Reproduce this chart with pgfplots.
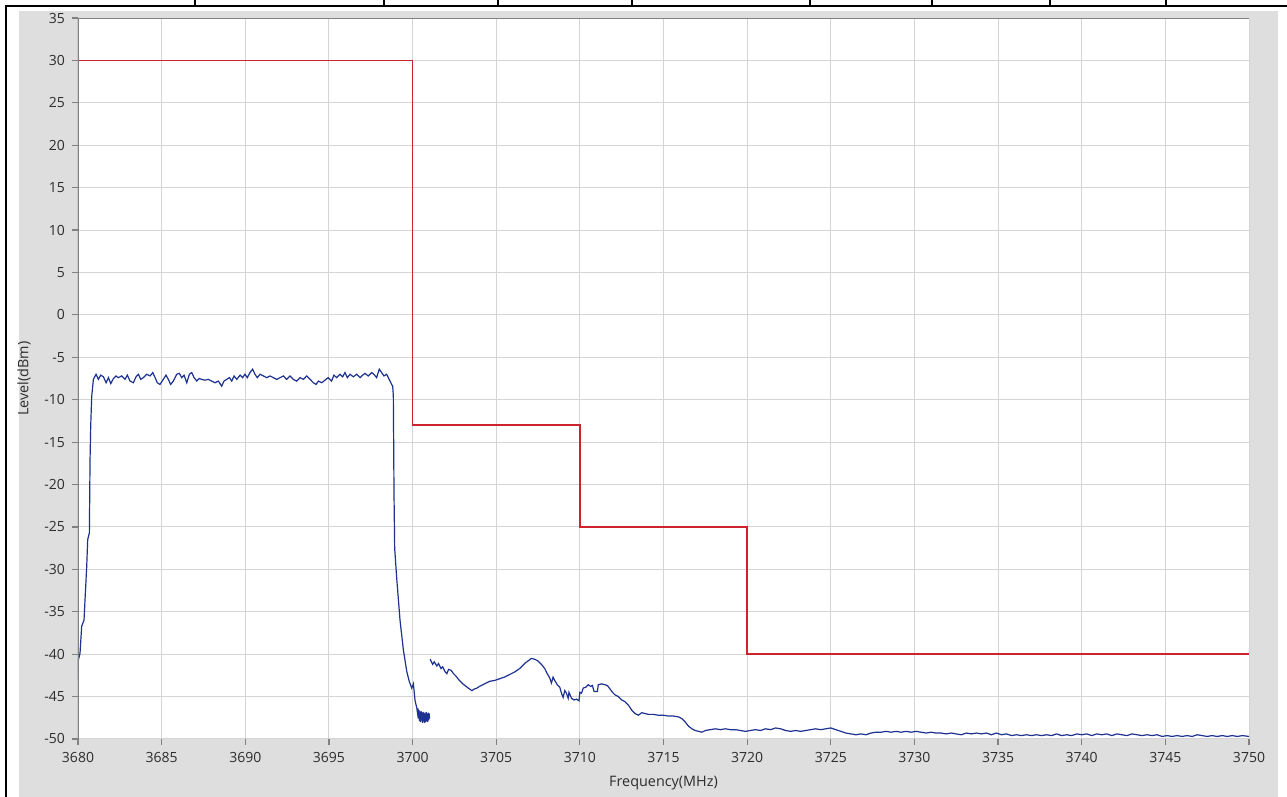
\documentclass[border=0pt]{standalone}
\usepackage{fontspec}
\setmainfont{Open Sans}
\usepackage{pgfplots}
\pgfplotsset{compat=1.18}

\definecolor{panel}{RGB}{222,222,222}
\definecolor{gridc}{RGB}{212,212,212}
\definecolor{axc}{RGB}{128,128,128}
\definecolor{limred}{RGB}{205,35,45}
\definecolor{trace}{RGB}{30,50,145}
\definecolor{txt}{RGB}{45,45,45}

\begin{document}
\begin{tikzpicture}
% page frame: 1px = 0.5pt
\useasboundingbox (0,0) rectangle (643.5pt,398.5pt);
\fill[panel] (9.5pt,0pt) rectangle (639pt,393pt);
\draw[black, line width=0.8pt] (3pt,0pt) -- (3pt,395.5pt) -- (643.5pt,395.5pt);
\foreach \sx in {97.5,192,249,316,405,466,525,583}
  \draw[black, line width=0.6pt] (\sx pt,395.5pt) -- (\sx pt,398.5pt);

\begin{axis}[
    at={(39pt,29pt)}, anchor=south west,
    scale only axis,
    width=585.5pt, height=360.5pt,
    xmin=3680, xmax=3750,
    ymin=-50, ymax=35,
    xtick={3680,3685,...,3750},
    ytick={-50,-45,...,35},
    xtick pos=bottom, ytick pos=left,
    tick align=outside,
    major tick length=3pt,
    tick style={axc, line width=0.6pt},
    axis line style={draw=none},
    axis background/.style={fill=white},
    grid=major,
    major grid style={gridc, line width=0.5pt},
    /pgf/number format/.cd, 1000 sep={}, assume math mode=true,
    /pgfplots/.cd,
    ticklabel style={font=\fontsize{7}{8}\selectfont, text=txt},
    label style={font=\fontsize{7.2}{8.5}\selectfont, text=txt},
    xlabel={Frequency(MHz)},
    ylabel={Level(dBm)},
    clip=true,
]
% limit mask
\addplot[limred, line width=0.75pt] coordinates {
  (3680,30) (3700,30) (3700,-13) (3710,-13) (3710,-25) (3720,-25) (3720,-40) (3750,-40)
};
% in-band part
\addplot[trace, line width=0.6pt] coordinates {
  (3680.00,-43.0) (3680.02,-40.7) (3680.12,-39.9) (3680.22,-36.7) (3680.36,-36.0)
  (3680.42,-33.6) (3680.52,-29.7) (3680.58,-26.5) (3680.68,-25.7) (3680.72,-17.1)
  (3680.76,-13.1) (3680.82,-9.6) (3680.92,-7.6) (3681.08,-7.0) (3681.22,-7.6)
  (3681.36,-7.1) (3681.52,-7.3) (3681.68,-8.0) (3681.82,-7.4) (3681.96,-8.1)
  (3682.12,-7.5) (3682.27,-7.2) (3682.41,-7.4) (3682.61,-7.2) (3682.81,-7.6)
  (3682.95,-7.1) (3683.11,-7.8) (3683.31,-8.0) (3683.47,-7.3) (3683.61,-7.0)
  (3683.75,-7.6) (3683.91,-7.4) (3684.11,-7.0) (3684.31,-7.2) (3684.47,-6.8)
  (3684.61,-7.4) (3684.74,-8.0) (3684.90,-8.2) (3685.10,-7.6) (3685.26,-7.1)
  (3685.40,-7.6) (3685.54,-8.2) (3685.70,-7.8) (3685.90,-7.0) (3686.06,-6.9)
  (3686.20,-7.4) (3686.34,-7.1) (3686.50,-8.0) (3686.66,-7.0) (3686.80,-6.8)
  (3686.94,-7.4) (3687.10,-7.8) (3687.25,-7.5) (3687.39,-7.6) (3687.59,-7.7)
  (3687.79,-7.6) (3687.99,-7.8) (3688.19,-8.0) (3688.39,-7.8) (3688.59,-8.4)
  (3688.73,-7.8) (3688.89,-7.6) (3689.05,-7.4) (3689.19,-7.8) (3689.33,-7.2)
  (3689.49,-7.6) (3689.69,-7.1) (3689.84,-7.4) (3689.98,-7.0) (3690.12,-7.4)
  (3690.28,-6.8) (3690.44,-6.4) (3690.58,-7.0) (3690.72,-7.4) (3690.88,-7.0)
  (3691.08,-7.2) (3691.28,-7.4) (3691.48,-7.2) (3691.68,-7.4) (3691.88,-7.6)
  (3692.08,-7.4) (3692.28,-7.2) (3692.47,-7.6) (3692.67,-7.2) (3692.87,-7.6)
  (3693.07,-7.8) (3693.27,-7.4) (3693.47,-7.6) (3693.67,-7.2) (3693.87,-7.6)
  (3694.07,-8.0) (3694.23,-8.2) (3694.37,-7.8) (3694.57,-8.0) (3694.76,-7.7)
  (3694.96,-7.4) (3695.16,-7.8) (3695.30,-7.1) (3695.46,-7.4) (3695.66,-7.0)
  (3695.82,-7.3) (3695.96,-6.8) (3696.10,-7.4) (3696.26,-7.0) (3696.46,-7.3)
  (3696.66,-7.0) (3696.86,-7.4) (3697.02,-7.1) (3697.16,-6.9) (3697.35,-7.2)
  (3697.55,-6.8) (3697.69,-7.0) (3697.85,-7.4) (3698.01,-6.4) (3698.15,-6.8)
  (3698.29,-7.2) (3698.45,-7.0) (3698.65,-7.8) (3698.75,-8.2) (3698.81,-8.4)
  (3698.85,-9.5) (3698.87,-15.0) (3698.89,-21.0) (3698.93,-27.5) (3699.05,-31.0)
  (3699.25,-36.0) (3699.45,-39.5) (3699.65,-42.0) (3699.80,-43.2) (3699.95,-44.0)
  (3700.05,-43.5) (3700.15,-45.5) (3700.25,-46.3) (3700.30,-47.0) (3700.33,-46.4)
  (3700.36,-47.6) (3700.39,-46.6) (3700.42,-47.9) (3700.45,-46.8) (3700.48,-48.0)
  (3700.51,-46.7) (3700.54,-47.8) (3700.57,-46.9) (3700.60,-48.1) (3700.63,-46.8)
  (3700.66,-47.9) (3700.69,-46.9) (3700.72,-48.1) (3700.75,-47.0) (3700.78,-48.0)
  (3700.81,-46.8) (3700.84,-47.9) (3700.87,-47.0) (3700.90,-48.0) (3700.93,-46.9)
  (3700.96,-47.8) (3700.99,-47.0) (3701.02,-47.6)
};
% adjacent part
\addplot[trace, line width=0.6pt] coordinates {
  (3701.05,-40.6) (3701.2,-41.2) (3701.3,-40.9) (3701.45,-41.4) (3701.55,-41.1)
  (3701.7,-41.7) (3701.8,-41.5) (3701.95,-42.1) (3702.05,-42.3) (3702.15,-41.8)
  (3702.3,-41.9) (3702.45,-42.3) (3702.6,-42.6) (3702.8,-43.1) (3703.0,-43.5)
  (3703.2,-43.8) (3703.4,-44.1) (3703.55,-44.3) (3703.7,-44.1) (3703.85,-44.0)
  (3704.0,-43.8) (3704.3,-43.5) (3704.6,-43.2) (3704.9,-43.1) (3705.2,-42.9)
  (3705.5,-42.7) (3705.8,-42.4) (3706.1,-42.1) (3706.4,-41.7) (3706.7,-41.1)
  (3706.9,-40.8) (3707.1,-40.5) (3707.3,-40.6) (3707.5,-40.8) (3707.7,-41.2)
  (3707.9,-41.7) (3708.05,-42.3) (3708.2,-42.8) (3708.3,-43.4) (3708.4,-42.7)
  (3708.5,-43.1) (3708.65,-43.6) (3708.8,-43.9) (3708.9,-44.6) (3709.0,-45.1)
  (3709.1,-44.3) (3709.2,-44.6) (3709.3,-45.2) (3709.35,-44.5) (3709.5,-45.2)
  (3709.65,-45.4) (3709.8,-45.3) (3709.95,-45.5) (3710.0,-44.5) (3710.1,-44.6)
  (3710.2,-44.0) (3710.35,-43.9) (3710.5,-43.6) (3710.65,-43.8) (3710.75,-43.7)
  (3710.85,-44.4) (3711.05,-44.4) (3711.1,-43.6) (3711.3,-43.5) (3711.5,-43.6)
  (3711.65,-43.7) (3711.8,-44.1) (3711.95,-44.5) (3712.1,-44.8) (3712.3,-45.0)
  (3712.5,-45.4) (3712.7,-45.6) (3712.9,-46.0) (3713.1,-46.6) (3713.3,-47.0)
  (3713.5,-47.2) (3713.7,-46.9) (3713.9,-47.0) (3714.1,-47.1) (3714.4,-47.1)
  (3714.7,-47.2) (3715.0,-47.2) (3715.3,-47.3) (3715.6,-47.3) (3715.9,-47.4)
  (3716.1,-47.6) (3716.3,-48.0) (3716.5,-48.5) (3716.7,-48.8) (3716.9,-49.0)
  (3717.1,-49.1) (3717.3,-49.2) (3717.5,-49.0) (3717.8,-48.9) (3718.1,-48.8)
  (3718.4,-48.9) (3718.7,-48.8) (3719.0,-48.9) (3719.3,-48.9) (3719.6,-49.0)
  (3719.9,-49.1) (3720.2,-49.0) (3720.5,-48.9) (3720.8,-49.0) (3721.1,-48.8)
  (3721.4,-48.9) (3721.7,-48.7) (3722.0,-48.8) (3722.3,-49.0) (3722.6,-49.1)
  (3722.9,-49.0) (3723.2,-49.1) (3723.5,-49.0) (3723.8,-48.9) (3724.1,-48.8)
  (3724.4,-48.9) (3724.7,-48.8) (3725.0,-48.7) (3725.3,-48.9) (3725.6,-49.1)
  (3725.9,-49.3) (3726.2,-49.4) (3726.5,-49.5) (3726.8,-49.4) (3727.1,-49.5)
  (3727.4,-49.3) (3727.7,-49.2) (3728.0,-49.2) (3728.3,-49.1) (3728.6,-49.2)
  (3728.9,-49.1) (3729.2,-49.2) (3729.5,-49.1) (3729.8,-49.2) (3730.1,-49.1)
  (3730.4,-49.2) (3730.7,-49.3) (3731.0,-49.2) (3731.3,-49.3) (3731.6,-49.3)
  (3731.9,-49.4) (3732.2,-49.3) (3732.5,-49.4) (3732.8,-49.5) (3733.1,-49.3)
  (3733.4,-49.4) (3733.7,-49.3) (3734.0,-49.4) (3734.3,-49.3) (3734.6,-49.5)
  (3734.9,-49.3) (3735.2,-49.5) (3735.5,-49.4) (3735.8,-49.6) (3736.1,-49.5)
  (3736.4,-49.6) (3736.7,-49.5) (3737.0,-49.6) (3737.3,-49.5) (3737.6,-49.6)
  (3737.9,-49.5) (3738.2,-49.6) (3738.5,-49.4) (3738.8,-49.6) (3739.1,-49.5)
  (3739.4,-49.6) (3739.7,-49.4) (3740.0,-49.5) (3740.3,-49.4) (3740.6,-49.6)
  (3740.9,-49.4) (3741.2,-49.5) (3741.5,-49.4) (3741.8,-49.6) (3742.1,-49.4)
  (3742.4,-49.5) (3742.7,-49.6) (3743.0,-49.4) (3743.3,-49.5) (3743.6,-49.6)
  (3743.9,-49.5) (3744.2,-49.6) (3744.5,-49.5) (3744.8,-49.7) (3745.1,-49.6)
  (3745.4,-49.7) (3745.7,-49.6) (3746.0,-49.7) (3746.3,-49.6) (3746.6,-49.7)
  (3746.9,-49.5) (3747.2,-49.6) (3747.5,-49.7) (3747.8,-49.6) (3748.1,-49.7)
  (3748.4,-49.6) (3748.7,-49.7) (3749.0,-49.6) (3749.3,-49.7) (3749.6,-49.6)
  (3750.0,-49.7)
};
% left and top frame of the plot area
\draw[axc, line width=0.75pt] (rel axis cs:0,0) -- (rel axis cs:0,1);
\draw[axc, line width=1pt] (rel axis cs:0,1) -- (rel axis cs:1,1);
\end{axis}
\end{tikzpicture}
\end{document}
